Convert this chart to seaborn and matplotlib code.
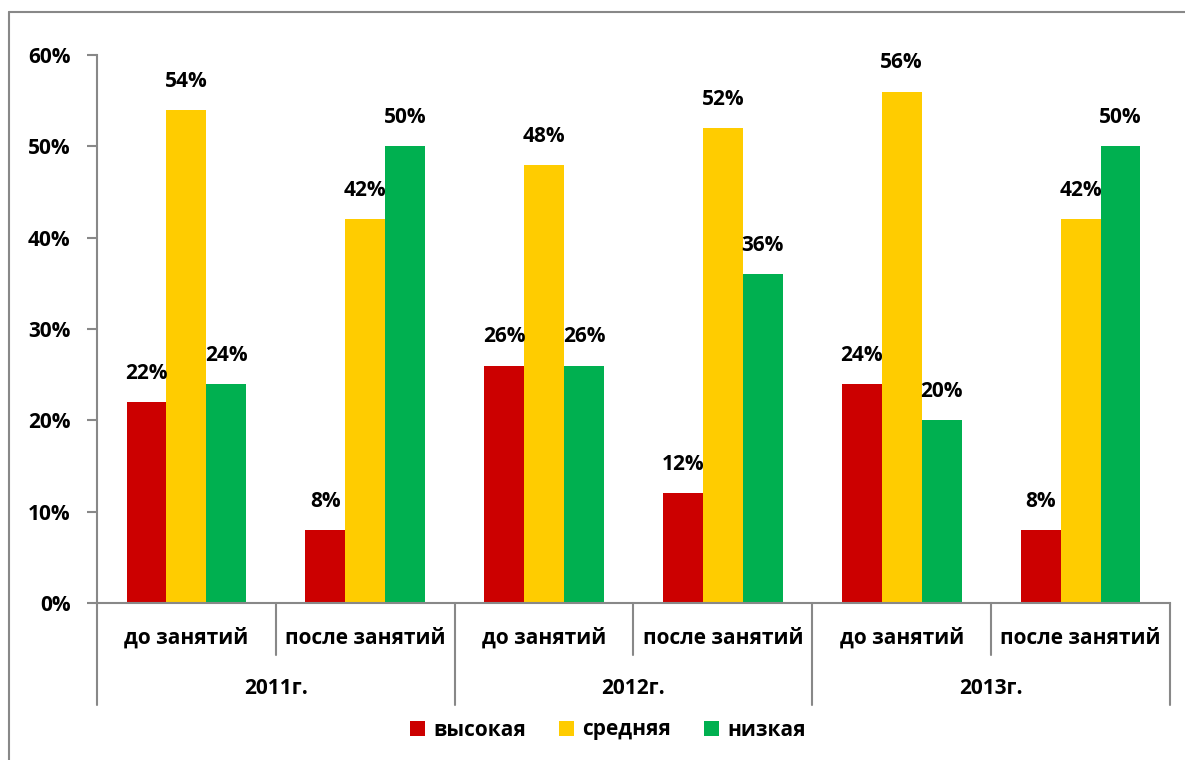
import matplotlib
matplotlib.use("Agg")
import matplotlib.pyplot as plt
import matplotlib.transforms as mtransforms
from matplotlib.lines import Line2D
from matplotlib.patches import Patch
import seaborn as sns
import pandas as pd

years = ["2011г.", "2012г.", "2013г."]
phases = ["до занятий", "после занятий"]
levels = ["высокая", "средняя", "низкая"]
high = [22, 8, 26, 12, 24, 8]
medium = [54, 42, 48, 52, 56, 42]
low = [24, 50, 26, 36, 20, 50]
colors = ["#CC0000", "#FFCC00", "#00B050"]
yticks = [0, 10, 20, 30, 40, 50, 60]

sns.set_theme(style="white")
plt.rcParams["font.family"] = ["Open Sans", "DejaVu Sans"]
plt.rcParams["font.weight"] = "bold"
plt.rcParams["text.color"] = "black"
FS = 15

cats = [f"{y}|{p}" for y in years for p in phases]
rows = []
for lvl, vals in zip(levels, [high, medium, low]):
    for c, v in zip(cats, vals):
        rows.append({"cat": c, "level": lvl, "value": v})
df = pd.DataFrame(rows)

fig = plt.figure(figsize=(11.85, 7.6), dpi=100)
ax = fig.add_axes([97 / 1185, 1 - 603 / 760, (1170 - 97) / 1185, (603 - 55) / 760])

sns.barplot(data=df, x="cat", y="value", hue="level", order=cats, hue_order=levels,
            palette=colors, width=0.67, saturation=1, ax=ax, legend=False, errorbar=None,
            linewidth=0, edgecolor="none")

ax.set_xlim(-0.5, 5.5)
ax.set_ylim(0, 60)
ax.set_yticks(yticks)
ax.set_yticklabels([f"{t}%" for t in yticks], fontsize=FS, fontweight="bold")
ax.set_xticks([])
ax.set_xlabel("")
ax.set_ylabel("")
for s in ["top", "right"]:
    ax.spines[s].set_visible(False)
for s in ["left", "bottom"]:
    ax.spines[s].set_color("#888888")
    ax.spines[s].set_linewidth(1.5)
ax.tick_params(axis="y", left=True, length=7, width=1.5, color="#888888", pad=12, labelcolor="black")

for cont in ax.containers:
    ax.bar_label(cont, labels=[f"{int(v)}%" for v in cont.datavalues], padding=13,
                 fontsize=FS, fontweight="bold", color="black")

trans = mtransforms.blended_transform_factory(ax.transData, ax.transAxes)
h_ax = 548.0
for x in [0.5, 2.5, 4.5]:
    ax.add_line(Line2D([x, x], [0, -52 / h_ax], transform=trans, color="#888888", lw=1.5, clip_on=False))
for x in [-0.5, 1.5, 3.5, 5.5]:
    ax.add_line(Line2D([x, x], [0, -102 / h_ax], transform=trans, color="#888888", lw=1.5, clip_on=False))

for i, c in enumerate(cats):
    ax.text(i, -35 / h_ax, c.split("|")[1], transform=trans, ha="center", va="center",
            fontsize=FS, fontweight="bold", color="black")
for j, y in enumerate(years):
    ax.text(2 * j + 0.5, -85 / h_ax, y, transform=trans, ha="center", va="center",
            fontsize=FS, fontweight="bold", color="black")

handles = [Patch(facecolor=c, edgecolor="none", label=l) for c, l in zip(colors, levels)]
leg = fig.legend(handles=handles, loc="center", bbox_to_anchor=(608 / 1185, 1 - 730 / 760), ncol=3,
                 frameon=False, handlelength=0.7, handleheight=0.7, handletextpad=0.4,
                 columnspacing=1.6, prop={"size": FS, "weight": "bold"}, labelcolor="black")

fig.add_artist(Line2D([9 / 1185, 9 / 1185], [0, 1 - 12 / 760], transform=fig.transFigure,
                      color="#888888", lw=1.5))
fig.add_artist(Line2D([9 / 1185, 1], [1 - 12 / 760, 1 - 12 / 760], transform=fig.transFigure,
                      color="#888888", lw=1.5))

fig.savefig("out.png", dpi=100)
